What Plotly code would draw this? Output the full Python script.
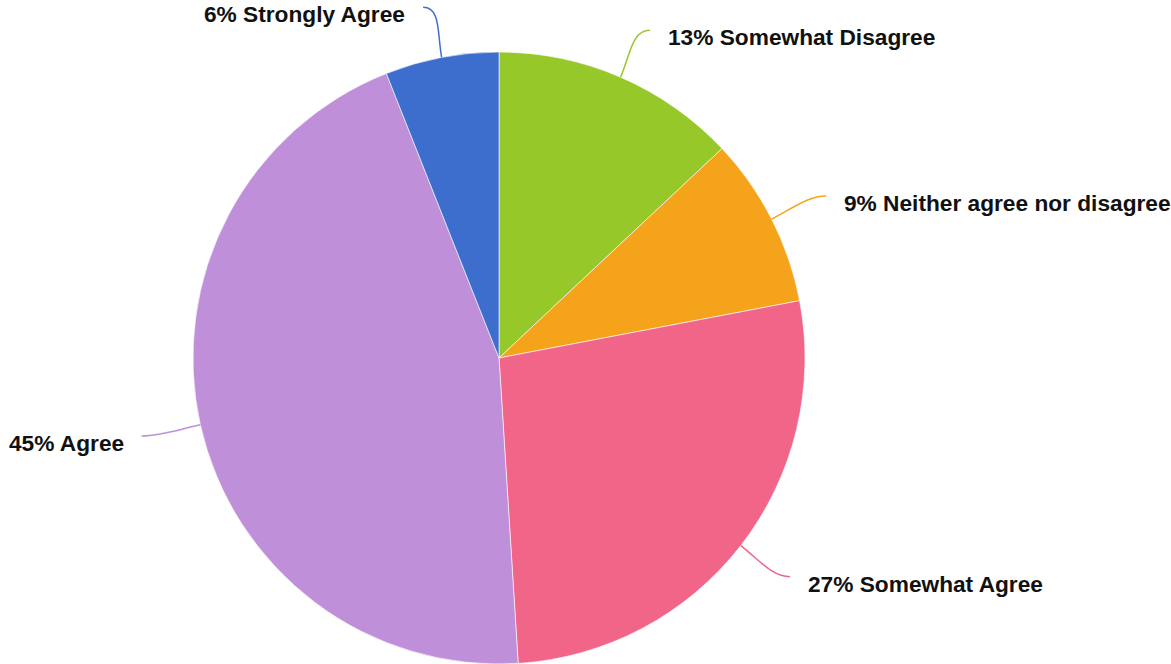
import math
import plotly.graph_objects as go

# Survey responses, in drawing order (clockwise from 12 o'clock)
categories = ["Somewhat Disagree", "Neither agree nor disagree", "Somewhat Agree",
              "Agree", "Strongly Agree"]
percentages = [13, 9, 27, 45, 6]
slice_colors = ["#97C829", "#F5A31A", "#F06588", "#BF8FDA", "#3D6ECE"]

W, H = 1171, 664
CX, CY, R = 499, 358, 306          # pie centre and radius in pixels
R_END = 357                         # radius where a leader line bends horizontal
TAIL = 9                            # horizontal run at the end of a leader line
FONT = "Liberation Sans, Arial, sans-serif"

fig = go.Figure(go.Pie(
    labels=categories,
    values=percentages,
    marker=dict(colors=slice_colors, line=dict(color="white", width=0.6)),
    sort=False,
    direction="clockwise",
    rotation=0,
    textinfo="none",
    hoverinfo="label+percent",
    showlegend=False,
    domain=dict(x=[(CX - R) / W, (CX + R) / W],
                y=[1 - (CY + R) / H, 1 - (CY - R) / H]),
))


def px(x, y):
    """pixel -> paper coordinates"""
    return x / W, 1 - y / H


shapes, annotations = [], []
total = sum(percentages)
cum = 0.0
for cat, val, col in zip(categories, percentages, slice_colors):
    mid = (cum + val / 2) / total * 2 * math.pi
    cum += val
    ux, uy = math.sin(mid), -math.cos(mid)
    side = 1 if ux >= 0 else -1
    p0 = (CX + R * ux, CY + R * uy)
    p1 = (CX + (R + 24) * ux, CY + (R + 24) * uy)
    p3 = (CX + R_END * ux + side * TAIL, CY + R_END * uy)
    p2 = (p3[0] - side * 18, p3[1])
    pts = [px(*p) for p in (p0, p1, p2, p3)]
    path = "M {0[0]},{0[1]} C {1[0]},{1[1]} {2[0]},{2[1]} {3[0]},{3[1]}".format(*pts)
    shapes.append(dict(type="path", path=path, xref="paper", yref="paper",
                       line=dict(color=col, width=1.5)))
    tx, ty = px(p3[0] + side * 16, p3[1] + 7)
    annotations.append(dict(
        x=tx, y=ty, xref="paper", yref="paper",
        text=f"<b>{val}% {cat}</b>", showarrow=False,
        xanchor="left" if side > 0 else "right", yanchor="middle",
        font=dict(family=FONT, size=22.7, color="#111111"),
    ))

fig.update_layout(
    width=W, height=H,
    margin=dict(l=0, r=0, t=0, b=0),
    paper_bgcolor="white", plot_bgcolor="white",
    shapes=shapes, annotations=annotations,
)

fig.write_html("out.html")
